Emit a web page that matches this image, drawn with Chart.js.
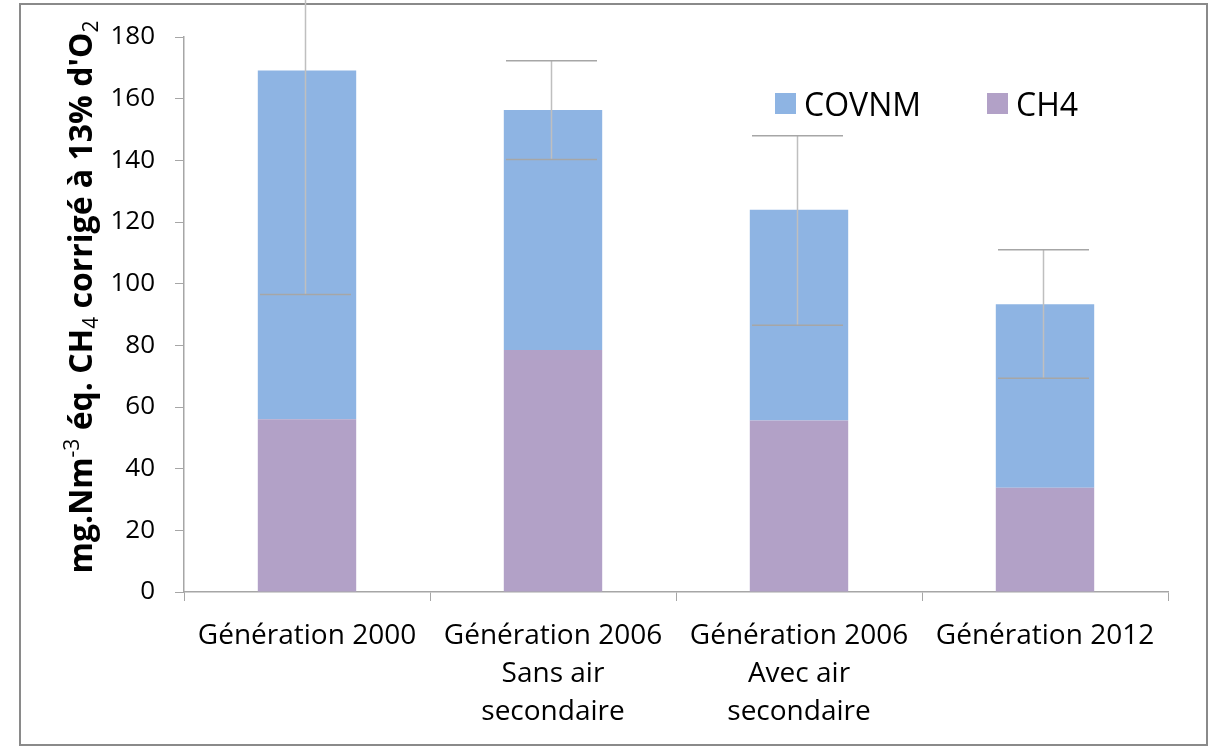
<!DOCTYPE html>
<html>
<head>
<meta charset="utf-8">
<script src="https://cdn.jsdelivr.net/npm/chart.js@4.4.0/dist/chart.umd.min.js"></script>
<style>
  body { margin: 0; background: #fff; }
  #wrap { position: relative; width: 1209px; height: 748px; }
  #legend { position: absolute; top: 84px; left: 775px; font-family: "Open Sans", sans-serif; font-size: 32px; color: #000; }
  .legend-item { position: absolute; white-space: nowrap; line-height: 40px; }
  .legend-box { position: absolute; top: 9px; width: 21px; height: 21px; }
</style>
</head>
<body>
<div id="wrap">
  <canvas id="chart" width="1209" height="748"></canvas>
  <div id="legend"></div>
</div>
<script>
const categories = [
  ["Génération 2000"],
  ["Génération 2006", "Sans air", "secondaire"],
  ["Génération 2006", "Avec air", "secondaire"],
  ["Génération 2012"]
];
const ch4Values = [56, 78.5, 55.6, 33.8];
const covnmValues = [113.1, 77.8, 68.4, 59.5];
const errorPlus = [72.6, 16, 24, 17.7];
const errorMinus = [72.6, 16, 37.5, 24];
const yTicks = [0, 20, 40, 60, 80, 100, 120, 140, 160, 180];

const colorCovnm = "#8EB4E3";
const colorCh4 = "#B2A1C7";
const axisColor = "#A6A6A6";

// frame around the whole picture
const framePlugin = {
  id: "frame",
  beforeDraw(chart) {
    const ctx = chart.ctx;
    ctx.save();
    ctx.fillStyle = "#fff";
    ctx.fillRect(0, 0, chart.width, chart.height);
    ctx.strokeStyle = "#8A8A8A";
    ctx.lineWidth = 2;
    ctx.strokeRect(20, 4, 1187, 741);
    ctx.restore();
  }
};

// error bars on top of the stacked total
const errorBarPlugin = {
  id: "errorBars",
  afterDatasetsDraw(chart) {
    const ctx = chart.ctx;
    const y = chart.scales.y;
    const meta = chart.getDatasetMeta(1);
    ctx.save();
    meta.data.forEach((bar, i) => {
      const total = ch4Values[i] + covnmValues[i];
      const top = y.getPixelForValue(total + errorPlus[i]);
      const bottom = y.getPixelForValue(total - errorMinus[i]);
      const x = Math.round(bar.x) - 1.5;
      ctx.strokeStyle = "#BFBFBF";
      ctx.lineWidth = 1.5;
      ctx.beginPath();
      ctx.moveTo(x, top);
      ctx.lineTo(x, bottom);
      ctx.stroke();
      ctx.strokeStyle = "#A6A6A6";
      ctx.lineWidth = 1.5;
      ctx.beginPath();
      ctx.moveTo(x - 45.5, top);
      ctx.lineTo(x + 45.5, top);
      ctx.moveTo(x - 45.5, bottom);
      ctx.lineTo(x + 45.5, bottom);
      ctx.stroke();
    });
    ctx.restore();
  }
};

// y axis title with sub and superscripts
const yTitlePlugin = {
  id: "yTitle",
  afterDraw(chart) {
    const ctx = chart.ctx;
    const parts = [
      ["mg.Nm", 0], ["-3", 1], [" éq. CH", 0], ["4", -1],
      [" corrigé à 13% d'O", 0], ["2", -1]
    ];
    const bigFont = "bold 32px 'Open Sans'";
    const smallFont = "21px 'Open Sans'";
    ctx.save();
    let total = 0;
    parts.forEach((p) => {
      ctx.font = p[1] === 0 ? bigFont : smallFont;
      total += ctx.measureText(p[0]).width;
    });
    const center = 297;
    ctx.translate(92, center + total / 2);
    ctx.rotate(-Math.PI / 2);
    ctx.fillStyle = "#000";
    ctx.textBaseline = "alphabetic";
    let pos = 0;
    parts.forEach((p) => {
      ctx.font = p[1] === 0 ? bigFont : smallFont;
      const shift = p[1] === 1 ? -13 : p[1] === -1 ? 6 : 0;
      ctx.fillText(p[0], pos, shift);
      pos += ctx.measureText(p[0]).width;
    });
    ctx.restore();
  }
};

function buildLegend() {
  const legend = document.querySelector("#legend");
  const items = [
    { label: "COVNM", color: colorCovnm, left: 0 },
    { label: "CH4", color: colorCh4, left: 212 }
  ];
  items.forEach((item) => {
    legend.innerHTML += `
      <div class="legend-item" style="left:${item.left}px">
        <span class="legend-box" style="left:0;background:${item.color}"></span>
        <span style="margin-left:29px">${item.label}</span>
      </div>`;
  });
}

const ctx = document.querySelector("#chart").getContext("2d");
const myChart = new Chart(ctx, {
  type: "bar",
  data: {
    labels: categories,
    datasets: [
      {
        label: "CH4",
        data: ch4Values,
        backgroundColor: colorCh4,
        borderWidth: 0,
        barPercentage: 0.4,
        categoryPercentage: 1
      },
      {
        label: "COVNM",
        data: covnmValues,
        backgroundColor: colorCovnm,
        borderWidth: 0,
        barPercentage: 0.4,
        categoryPercentage: 1
      }
    ]
  },
  options: {
    responsive: false,
    animation: false,
    devicePixelRatio: 1,
    layout: { padding: { left: 0, right: 41, top: 37, bottom: 0 } },
    plugins: {
      legend: { display: false },
      tooltip: { enabled: false }
    },
    scales: {
      x: {
        stacked: true,
        grid: {
          offset: true,
          drawOnChartArea: false,
          color: axisColor,
          tickLength: 9
        },
        border: { color: axisColor, width: 1.5 },
        ticks: {
          color: "#000",
          maxRotation: 0,
          autoSkip: false,
          padding: 16,
          font: { family: "'Open Sans'", size: 28, lineHeight: 1.36 }
        },
        afterFit: (scale) => { scale.height = 156; }
      },
      y: {
        stacked: true,
        min: 0,
        max: 180,
        afterBuildTicks: (scale) => {
          scale.ticks = yTicks.map((v) => ({ value: v }));
        },
        grid: {
          drawOnChartArea: false,
          color: axisColor,
          tickLength: 9
        },
        border: { color: axisColor, width: 1.5 },
        ticks: {
          color: "#000",
          padding: 20,
          font: { family: "'Open Sans'", size: 26 }
        },
        afterFit: (scale) => { scale.width = 184; }
      }
    }
  },
  plugins: [framePlugin, errorBarPlugin, yTitlePlugin]
});

buildLegend();
</script>
</body>
</html>
